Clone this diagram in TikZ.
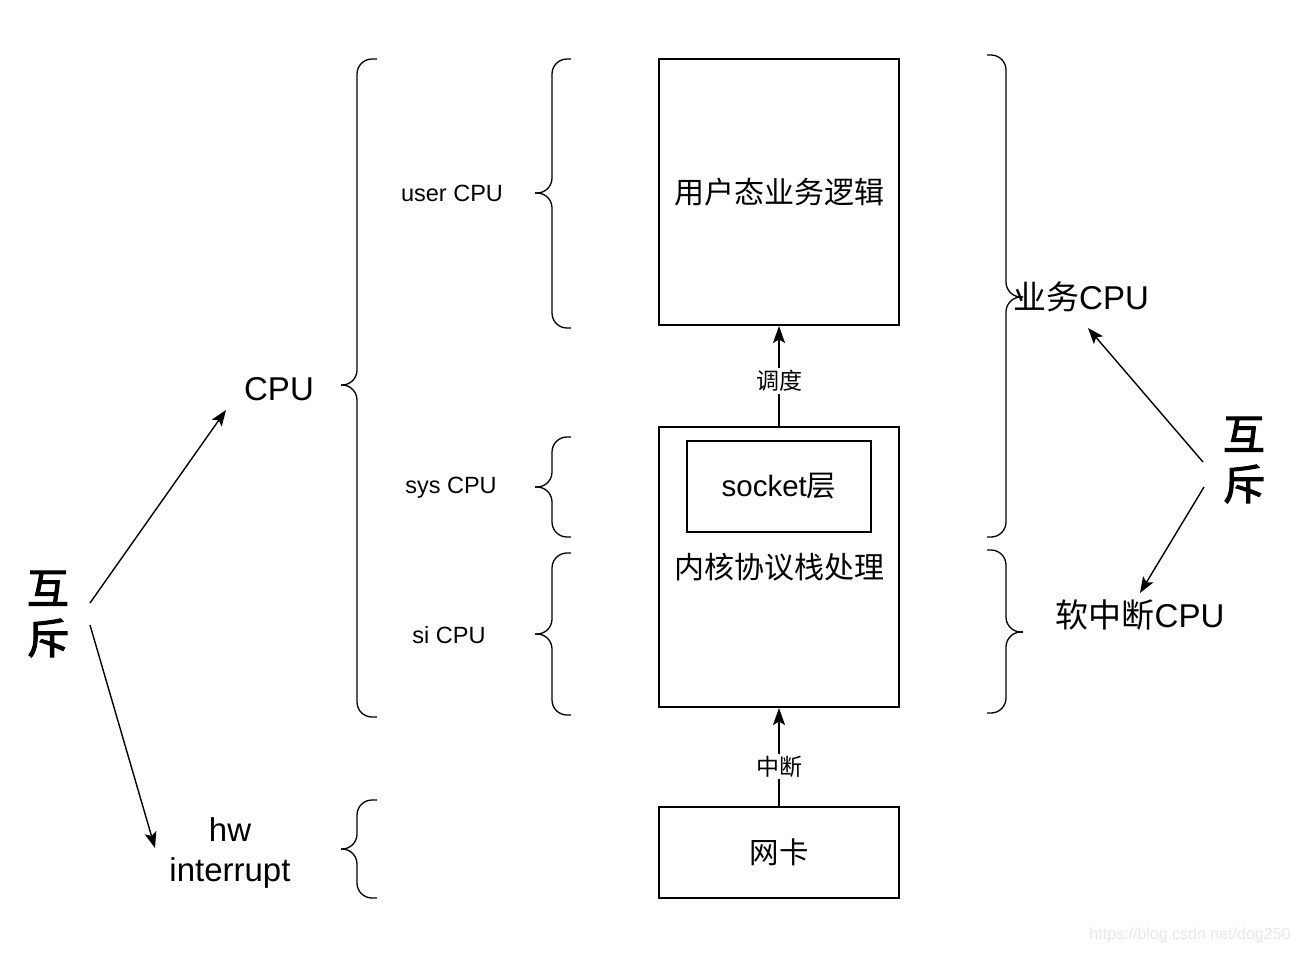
\documentclass[tikz,border=0pt]{standalone}
\usepackage{fontspec}
\setmainfont{Liberation Sans}
\newfontfamily\cjk{Noto Sans CJK SC}
\newfontfamily\cjkb{Noto Sans CJK SC}[FakeBold=2.5]
\usetikzlibrary{arrows.meta}
\newcommand\fs[1]{\fontsize{#1}{#1}\selectfont}
\begin{document}
\begin{tikzpicture}[x=1pt,y=-1pt,
  box/.style={draw,line width=2pt,minimum width=240pt,inner sep=0pt},
  arr/.style={line width=1.6pt,-{Stealth[length=17pt,width=12pt,inset=3.5pt]}},
  thin/.style={line width=1.4pt,-{Stealth[length=16pt,width=12pt,inset=3.5pt]}},
  brace/.style={line width=1.3pt,rounded corners=15pt},
  lbl/.style={inner sep=0pt,align=center}]
\useasboundingbox (0,0) rectangle (1296,954);
% boxes
\node[box,minimum height=266pt] (user) at (779,192) {\cjk\fs{30}用户态业务逻辑};
\node[box,minimum height=280pt] (kern) at (779,567) {\cjk\fs{30}内核协议栈处理};
\node[box,minimum width=184pt,minimum height=91pt] (sock) at (779,486.5) {\fs{29.5}socket{\cjk 层}};
\node[box,minimum height=91pt] (nic) at (779,852.5) {\cjk\fs{29.5}网卡};
\draw[arr] (kern.north) -- node[pos=0.45,fill=white,inner sep=2pt]{\cjk\fs{23}调度} (user.south);
\draw[arr] (nic.north) -- node[pos=0.4,fill=white,inner sep=2pt]{\cjk\fs{23}中断} (kern.south);
% left labels
\node[lbl] (cpu) at (279,389) {\fs{33}CPU};
\node[lbl] (ucpu) at (452,193) {\fs{23.5}user CPU};
\node[lbl] (scpu) at (451,488) {\fs{23.5}sys CPU};
\node[lbl] (sicpu) at (449,635) {\fs{23.5}si CPU};
\node[lbl,font=\fontsize{33}{40}\selectfont] (hw) at (230,853) {hw\\interrupt};
\node[lbl,font=\cjkb\fontsize{42}{50}\selectfont] (mxl) at (48,614) {互\\斥};
\node[lbl,font=\cjkb\fontsize{42}{50}\selectfont] (mxr) at (1244,460) {互\\斥};
\node[lbl,anchor=west] (biz) at (1013,297) {{\cjk\fs{33}业务}\fs{33}CPU};
\node[lbl] (soft) at (1140,615) {{\cjk\fs{33}软中断}\fs{33}CPU};
\node[lbl,text=gray!18] (wm) at (1190,935) {\fs{16}https://blog.csdn.net/dog250};
% left arrows
\coordinate (l1) at (90,603); \coordinate (l1e) at (226,410);
\coordinate (l2) at (90,625); \coordinate (l2e) at (155,848);
\draw[thin] (l1) -- (l1e);
\draw[thin] (l2) -- (l2e);
% right arrows
\coordinate (r1) at (1203,462); \coordinate (r1e) at (1088,328);
\coordinate (r2) at (1204,487); \coordinate (r2e) at (1140,593);
\draw[thin] (r1) -- (r1e);
\draw[thin] (r2) -- (r2e);
% left braces
\draw[brace] (377,59) -- (357,59) -- (357,385) -- (341,385);
\draw[brace] (341,385) -- (357,385) -- (357,717) -- (377,717);
\draw[brace] (571,59) -- (552,59) -- (552,193) -- (535,193);
\draw[brace] (535,193) -- (552,193) -- (552,328) -- (571,328);
\draw[brace] (571,437) -- (552,437) -- (552,487) -- (535,487);
\draw[brace] (535,487) -- (552,487) -- (552,537) -- (571,537);
\draw[brace] (571,553) -- (552,553) -- (552,634) -- (535,634);
\draw[brace] (535,634) -- (552,634) -- (552,715) -- (571,715);
\draw[brace] (377,800) -- (357,800) -- (357,849) -- (341,849);
\draw[brace] (341,849) -- (357,849) -- (357,898) -- (377,898);
% right braces
\draw[brace] (987,55) -- (1006,55) -- (1006,297) -- (1023,297);
\draw[brace] (1023,297) -- (1006,297) -- (1006,537) -- (987,537);
\draw[brace] (987,550) -- (1006,550) -- (1006,632) -- (1023,632);
\draw[brace] (1023,632) -- (1006,632) -- (1006,713) -- (987,713);
\end{tikzpicture}
\end{document}
